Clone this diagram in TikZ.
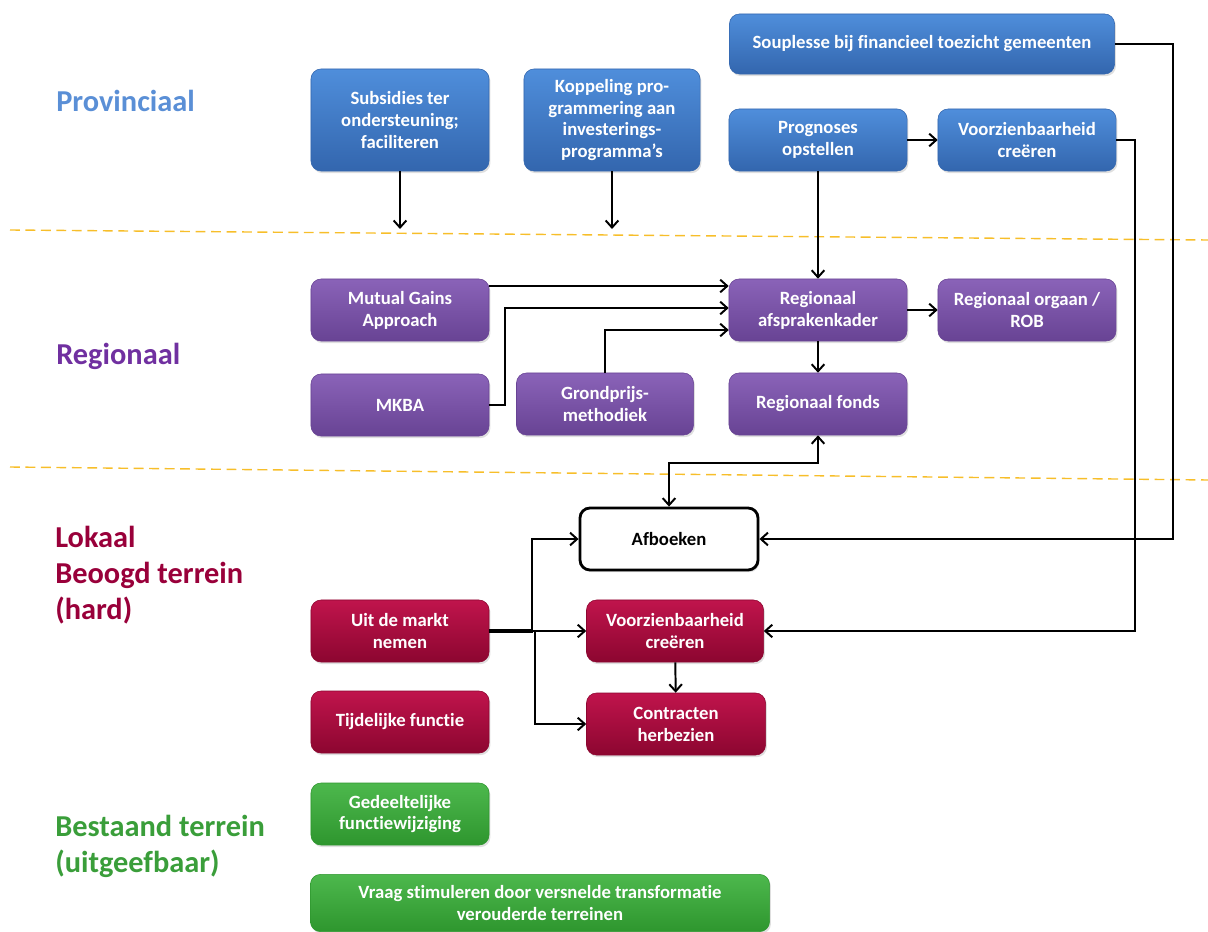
\documentclass[tikz,border=0pt]{standalone}
\usepackage{fontspec}
\setmainfont{Carlito}[Ligatures=NoCommon]
\usepackage{tikz}
\usetikzlibrary{positioning, arrows.meta, shapes, calc, shadows}
\usepackage{xcolor}

\definecolor{provtop}{HTML}{4F8EDB}
\definecolor{provbot}{HTML}{3366AE}
\definecolor{regtop}{HTML}{8A63B8}
\definecolor{regbot}{HTML}{684394}
\definecolor{loktop}{HTML}{C0144C}
\definecolor{lokbot}{HTML}{8C0630}
\definecolor{bsttop}{HTML}{4DB84D}
\definecolor{bstbot}{HTML}{2E962E}
\definecolor{provtxt}{HTML}{5A8FD6}
\definecolor{regtxt}{HTML}{7030A0}
\definecolor{loktxt}{HTML}{99003A}
\definecolor{bsttxt}{HTML}{3A9E3A}
\definecolor{sepline}{HTML}{F7BE2A}

\newcommand{\boxfont}{\fontsize{13.3}{15.6}\selectfont\bfseries}
\newcommand{\lvlfont}{\fontsize{21.6}{25.6}\selectfont\bfseries}

\begin{document}
\begin{tikzpicture}[x=0.025cm, y=-0.025cm,
  box/.style={rounded corners=0.25cm, minimum width=4.45cm, minimum height=1.55cm,
    align=center, text=white, font=\boxfont, inner sep=2pt,
    drop shadow={opacity=0.25, shadow xshift=1pt, shadow yshift=-1.5pt}},
  provbox/.style={box, top color=provtop, bottom color=provbot, draw=provbot},
  regbox/.style={box, top color=regtop, bottom color=regbot, draw=regbot},
  lokbox/.style={box, top color=loktop, bottom color=lokbot, draw=lokbot},
  bstbox/.style={box, top color=bsttop, bottom color=bstbot, draw=bstbot},
  level/.style={anchor=west, align=left, font=\lvlfont, inner sep=0pt},
  arr/.style={-{Straight Barb[length=5pt, width=9pt]}, line width=1.4pt},
  sep/.style={sepline, line width=1pt, dash pattern=on 7pt off 4pt}
]
\useasboundingbox (0,0) rectangle (1208,932);

% Levels
\node[level, text=provtxt] (lprov) at (56,101) {Provinciaal};
\node[level, text=regtxt] (lreg) at (56,356) {Regionaal};
\node[level, text=loktxt] (llok) at (55,575) {Lokaal\\Beoogd terrein\\(hard)};
\node[level, text=bsttxt] (lbst) at (55,846) {Bestaand terrein\\(uitgeefbaar)};

% Separators
\draw[sep] (10,230) -- (1208,240);
\draw[sep] (10,467) -- (1208,480);

% Provinciaal
\node[provbox, minimum height=2.55cm] (subs) at (400,120) {Subsidies ter\\ondersteuning;\\faciliteren};
\node[provbox, minimum height=2.55cm, minimum width=4.4cm] (kopp) at (612,120) {Koppeling pro-\\grammering aan\\investerings-\\programma’s};
\node[provbox, minimum width=9.625cm, minimum height=1.5cm] (soup) at (922,44) {Souplesse bij financieel toezicht gemeenten};
\node[provbox] (prog) at (818,140) {Prognoses\\opstellen};
\node[provbox] (voorzp) at (1027,140) {Voorzienbaarheid\\creëren};
\coordinate (subsend) at (400,229);
\coordinate (koppend) at (612,229);

% Regionaal
\node[regbox] (mga) at (400,310) {Mutual Gains\\Approach};
\node[regbox] (mkba) at (400,405) {MKBA};
\node[regbox, minimum width=4.425cm] (grond) at (605,404) {Grondprijs-\\methodiek};
\node[regbox] (kader) at (818,310) {Regionaal\\afsprakenkader};
\node[regbox] (orgaan) at (1027,310) {Regionaal orgaan /\\ROB};
\node[regbox] (fonds) at (818,404) {Regionaal fonds};

% Lokaal
\node[box, drop shadow={opacity=0}, draw=black, line width=2pt, fill=white, text=black] (afb) at (669,539) {Afboeken};
\node[lokbox] (uit) at (400,631) {Uit de markt\\nemen};
\node[lokbox, minimum width=4.425cm] (voorzl) at (675,631) {Voorzienbaarheid\\creëren};
\node[lokbox] (tijd) at (400,722) {Tijdelijke functie};
\node[lokbox, minimum width=4.475cm] (contr) at (676,724) {Contracten\\herbezien};

% Bestaand
\node[bstbox] (gedl) at (400,814) {Gedeeltelijke\\functiewijziging};
\node[bstbox, minimum width=11.475cm, minimum height=1.43cm] (vraag) at (540,903) {Vraag stimuleren door versnelde transformatie\\verouderde terreinen};

% Connectors
\draw[arr] (subs) -- (subsend);
\draw[arr] (kopp) -- (koppend);
\draw[arr] (prog) -- (voorzp);
\draw[arr] (prog) -- (kader);
\draw[arr] (soup.east) -| ($(afb.east)+(414,0)$) -- (afb.east);
\draw[arr] (voorzp.east) -- ++(19,0) |- (voorzl.east);
\draw[arr] ($(mga.east)+(0,-24)$) coordinate (m1) -- (m1 -| kader.west);
\draw[arr] (mkba.east) -- ++(16,0) |- ($(kader.west)+(0,-2)$);
\draw[arr] (grond.north) |- ($(kader.west)+(0,20)$);
\draw[arr] (kader) -- (orgaan);
\draw[arr] (kader) -- (fonds);
\draw[arr, <->, >={Straight Barb[length=5pt, width=9pt]}] (fonds.south) -- ++(0,28) -| (afb.north);
\coordinate (split) at ($(uit.east)+(44,0)$);
\draw[line width=3pt] (uit.east) -- (split);
\draw[arr] (split) -- (voorzl.west);
\draw[arr] ($(split)+(-1,0)$) |- (afb.west);
\draw[arr] ($(split)+(2,0)$) |- (contr.west);
\draw[arr] (voorzl) -- (contr);
\end{tikzpicture}
\end{document}
